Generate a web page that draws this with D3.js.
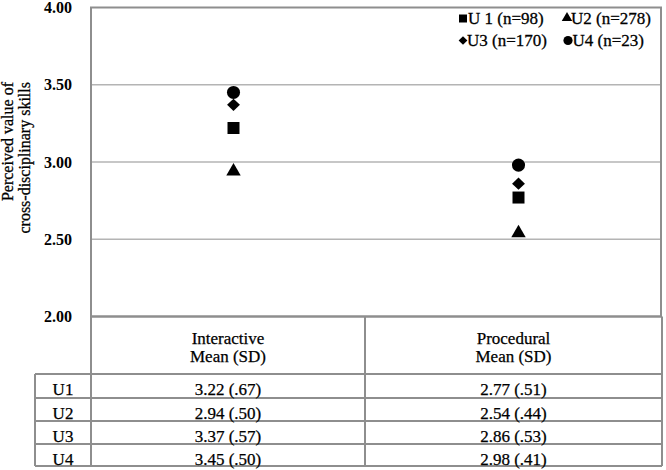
<!DOCTYPE html>
<html><head><meta charset="utf-8">
<script src="https://cdn.jsdelivr.net/npm/d3@7"></script>
<style>html,body{margin:0;padding:0;background:#fff;} svg{display:block;} text{font-family:"Liberation Serif","Times New Roman",Times,serif;}</style>
</head><body>
<svg id="chart" width="666" height="470"></svg>
<script>
const categories = ["Interactive", "Procedural"];
const groups = ["U1", "U2", "U3", "U4"];
const legendLabels = ["U 1 (n=98)", "U2 (n=278)", "U3 (n=170)", "U4 (n=23)"];
const interactiveMean = [3.22, 2.94, 3.37, 3.45];
const interactiveSD = [".67", ".50", ".57", ".50"];
const proceduralMean = [2.77, 2.54, 2.86, 2.98];
const proceduralSD = [".51", ".44", ".53", ".41"];
const yTicks = [2.00, 2.50, 3.00, 3.50, 4.00];
const yTitle = ["Perceived value of", "cross-disciplinary skills"];
const headerLines = [["Interactive", "Mean (SD)"], ["Procedural", "Mean (SD)"]];

const svg = d3.select("#chart");
const gridColor = "#b4b4b4", borderColor = "#8e8e8e", ink = "#000";

const L = 91, R = 661, T = 7.5, B = 316.5;
const x = d3.scaleBand().domain(categories).range([L, R]).padding(0);
const y = d3.scaleLinear().domain([2, 4]).range([B, T]);

// gridlines
svg.append("g").selectAll("line").data(yTicks.filter(v => v > 2 && v < 4)).join("line")
  .attr("x1", L).attr("x2", R).attr("y1", d => y(d)).attr("y2", d => y(d))
  .attr("stroke", gridColor).attr("stroke-width", 1.5);

// plot border
svg.append("rect").attr("x", L).attr("y", T).attr("width", R - L).attr("height", B - T)
  .attr("fill", "none").attr("stroke", borderColor).attr("stroke-width", 2);

// y axis labels
const yAxis = d3.axisLeft(y).tickValues(yTicks).tickFormat(d3.format(".2f")).tickSize(0).tickPadding(19);
const ga = svg.append("g").attr("transform", `translate(${L},0)`).call(yAxis);
ga.select(".domain").remove();
ga.attr("font-family", null);
ga.selectAll("text").attr("font-size", 16).attr("font-weight", "bold").attr("fill", ink);

// y title
yTitle.forEach((t, i) => {
  svg.append("text").attr("transform", `translate(${13 + i * 17},82) rotate(-90)`)
    .attr("text-anchor", "end").attr("font-size", 16).attr("fill", ink)
    .attr("stroke", ink).attr("stroke-width", 0.3).text(t);
});

// symbols
const diamond = { draw(ctx, size) { const r = Math.sqrt(size) / 2; const w = r * 1.05, h = r * 1.0;
  ctx.moveTo(0, -h); ctx.lineTo(w, 0); ctx.lineTo(0, h); ctx.lineTo(-w, 0); ctx.closePath(); } };
const symTypes = [d3.symbolSquare, d3.symbolTriangle, diamond, d3.symbolCircle];
const symSizes = [144, 90, 150, 135];
const legSizes = [64, 48, 70, 66];

const series = groups.map((g, i) => ({ g, i, vals: [interactiveMean[i], proceduralMean[i]] }));
const pts = [];
series.forEach(s => s.vals.forEach((v, j) => pts.push({ i: s.i, cat: categories[j], v })));
svg.append("g").selectAll("path").data(pts).join("path")
  .attr("transform", d => `translate(${x(d.cat) + x.bandwidth() / 2},${y(d.v)})`)
  .attr("d", d => d3.symbol(symTypes[d.i], symSizes[d.i])())
  .attr("fill", "#000");

// legend
const legPos = [[463, 18.5, 468, 24], [567, 18, 571, 24], [463, 40.5, 467, 45.5], [568, 40.5, 572.5, 45.5]];
legendLabels.forEach((lab, i) => {
  const p = legPos[i];
  svg.append("path").attr("transform", `translate(${p[0]},${p[1]})`)
    .attr("d", d3.symbol(symTypes[i], legSizes[i])()).attr("fill", "#000");
  svg.append("text").attr("x", p[2]).attr("y", p[3]).attr("font-size", 17)
    .attr("fill", ink).attr("stroke", ink).attr("stroke-width", 0.3).text(lab);
});

// table
const tL = 35, tSplit = 365, tR = 662, hTop = 316.5;
const rowEdges = [374, 398, 421, 444, 466];
const colCenters = [228, (tSplit + tR) / 2];
const tg = svg.append("g");
const ln = (x1, y1, x2, y2) => tg.append("line").attr("x1", x1).attr("y1", y1).attr("x2", x2).attr("y2", y2)
  .attr("stroke", borderColor).attr("stroke-width", 2);
ln(L, hTop, tR, hTop); ln(L, hTop, L, rowEdges[4]); ln(tR, hTop, tR, rowEdges[4]); ln(tSplit, hTop, tSplit, rowEdges[4]);
rowEdges.forEach(e => ln(tL, e, tR, e));
ln(tL, rowEdges[0], tL, rowEdges[4]);

headerLines.forEach((lines, j) => lines.forEach((t, k) => {
  tg.append("text").attr("x", colCenters[j]).attr("y", 343.5 + k * 18).attr("text-anchor", "middle")
    .attr("font-size", 17).attr("fill", ink).attr("stroke", ink).attr("stroke-width", 0.25).text(t);
}));
const means = [interactiveMean, proceduralMean], sds = [interactiveSD, proceduralSD];
groups.forEach((g, i) => {
  const by = rowEdges[i] + 20.5;
  tg.append("text").attr("x", (tL + L) / 2).attr("y", by).attr("text-anchor", "middle")
    .attr("font-size", 17).attr("fill", ink).attr("stroke", ink).attr("stroke-width", 0.25).text(g);
  [0, 1].forEach(j => {
    tg.append("text").attr("x", colCenters[j]).attr("y", by).attr("text-anchor", "middle")
      .attr("font-size", 17).attr("fill", ink).attr("stroke", ink).attr("stroke-width", 0.25)
      .text(`${d3.format(".2f")(means[j][i])} (${sds[j][i]})`);
  });
});
</script>
</body></html>
